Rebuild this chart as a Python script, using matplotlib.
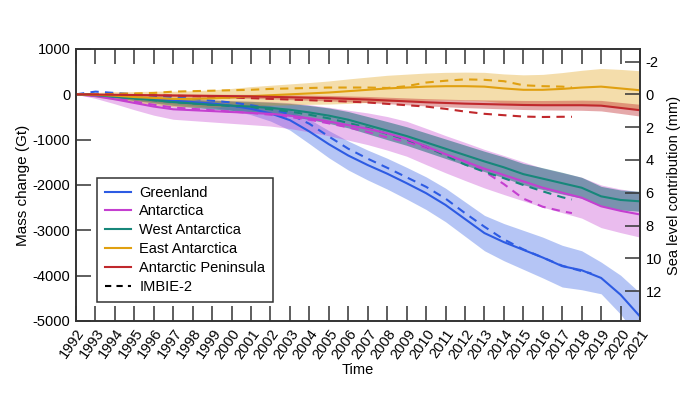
import numpy as np
import matplotlib
matplotlib.use("Agg")
import matplotlib.pyplot as plt
from matplotlib.lines import Line2D

plt.rcParams['font.family'] = ['Liberation Sans', 'DejaVu Sans']
plt.rcParams['axes.unicode_minus'] = False

years = list(range(1992, 2022))

greenland = [0, -20, -50, -80, -110, -140, -170, -200, -250, -320, -420, -570, -820, -1100,
             -1350, -1560, -1750, -1960, -2180, -2440, -2750, -3060, -3260, -3430, -3600,
             -3790, -3880, -4050, -4420, -4900]
greenland_unc = [0, 20, 40, 50, 60, 70, 80, 90, 100, 130, 170, 220, 270, 300, 320, 330, 340,
                 350, 360, 370, 380, 390, 410, 430, 450, 460, 430, 350, 430, 520]

antarctica = [0, -40, -110, -190, -270, -330, -350, -370, -390, -410, -430, -470, -530, -600,
              -680, -760, -860, -980, -1150, -1320, -1480, -1640, -1780, -1920, -2060, -2170,
              -2280, -2470, -2570, -2650]
antarctica_unc = [0, 50, 100, 150, 190, 220, 230, 240, 250, 260, 270, 285, 300, 315, 330, 350,
                  370, 385, 400, 410, 420, 425, 430, 430, 430, 440, 450, 470, 480, 500]

west = [0, -20, -50, -90, -130, -170, -200, -230, -250, -270, -300, -340, -400, -470, -560,
        -680, -800, -920, -1060, -1200, -1340, -1480, -1610, -1760, -1860, -1960, -2060,
        -2250, -2330, -2360]
west_unc = [0, 15, 30, 45, 60, 75, 85, 95, 105, 115, 125, 140, 155, 170, 180, 190, 200, 205,
            210, 215, 220, 225, 230, 235, 240, 240, 230, 220, 220, 220]

east = [0, -10, -30, -60, -80, -100, -100, -90, -70, -40, -20, 0, 20, 40, 70, 100, 130, 150,
        170, 180, 180, 170, 130, 100, 100, 120, 150, 170, 130, 90]
east_unc = [0, 50, 90, 120, 150, 170, 180, 190, 200, 210, 220, 230, 240, 255, 270, 280, 290,
            295, 300, 305, 310, 315, 320, 330, 340, 360, 380, 400, 420, 430]

peninsula = [0, -5, -10, -15, -20, -25, -30, -35, -40, -45, -55, -65, -75, -85, -100, -115,
             -135, -155, -175, -190, -205, -215, -225, -235, -240, -240, -240, -250, -300, -350]
peninsula_unc = [0, 10, 15, 20, 25, 30, 33, 36, 40, 44, 48, 52, 56, 60, 64, 68, 72, 76, 80,
                 84, 88, 92, 96, 100, 104, 108, 112, 116, 122, 130]

imbie_years = list(range(1992, 2018)) + [2017.5]
imbie_green_years = list(range(1992, 2019)) + [2018.5]
imbie_greenland = [0, 60, 30, 0, -30, -60, -100, -140, -180, -240, -320, -440, -650, -930,
                   -1200, -1420, -1620, -1830, -2040, -2300, -2620, -2920, -3200, -3420, -3600,
                   -3780, -3900, -3950]
imbie_antarctica = [0, -30, -90, -160, -230, -290, -320, -350, -380, -410, -450, -500, -560,
                    -640, -730, -830, -950, -1050, -1180, -1330, -1480, -1700, -1980, -2300,
                    -2480, -2580, -2620]
imbie_west = [0, -20, -50, -90, -130, -170, -200, -230, -260, -290, -330, -380, -450, -530,
              -630, -740, -870, -1000, -1150, -1350, -1550, -1710, -1850, -2000, -2140, -2270,
              -2320]
imbie_east = [0, 0, 10, 20, 30, 60, 70, 80, 90, 100, 120, 130, 140, 150, 150, 150, 140, 180,
              260, 300, 330, 320, 290, 200, 180, 170, 150]
imbie_peninsula = [0, -5, -10, -15, -20, -30, -40, -55, -70, -85, -100, -115, -130, -145,
                   -160, -180, -210, -240, -270, -320, -380, -430, -460, -490, -500, -495, -495]

labels = ["Greenland", "Antarctica", "West Antarctica", "East Antarctica", "Antarctic Peninsula"]
colors = ["#2d5be3", "#c43fd0", "#17877a", "#e0a010", "#c0282c"]
band_colors = ["#2d5be3", "#c43fd0", "#0c6a70", "#e0a010", "#c0282c"]
band_alpha = [0.35, 0.35, 0.5, 0.35, 0.4]

GT_PER_MM = 362.0

fig = plt.figure(figsize=(6.98, 3.96), dpi=100)
ax = fig.add_axes([76 / 698, 1 - 321 / 396, (640 - 76) / 698, (321 - 49) / 396])

series = [(greenland, greenland_unc, imbie_green_years, imbie_greenland),
          (antarctica, antarctica_unc, imbie_years, imbie_antarctica),
          (west, west_unc, imbie_years, imbie_west),
          (east, east_unc, imbie_years, imbie_east),
          (peninsula, peninsula_unc, imbie_years, imbie_peninsula)]

yrs = np.array(years, dtype=float)
for (vals, unc, iy, iv), c, a in zip(series, band_colors, band_alpha):
    v = np.array(vals, dtype=float)
    u = np.array(unc, dtype=float)
    ax.fill_between(yrs, v - u, v + u, color=c, alpha=a, lw=0, zorder=1)

for (vals, unc, iy, iv), c in zip(series, colors):
    ax.plot(iy, iv, color=c, lw=1.5, linestyle=(0, (4, 3)), zorder=3)
    ax.plot(yrs, vals, color=c, lw=1.5, zorder=4)

edge = '#333333'
ax.set_xlim(1992, 2021)
ax.set_ylim(-5000, 1000)
ax.set_xticks(years)
ax.set_xticklabels([str(y) for y in years], rotation=55, ha='right', rotation_mode='anchor')
ax.set_yticks(range(-5000, 1001, 1000))
ax.tick_params(axis='x', direction='in', length=11, width=1.1, top=True, bottom=True,
               labelsize=10.5, color=edge, pad=4)
ax.tick_params(axis='y', direction='in', length=11, width=1.1, left=True, right=False,
               labelsize=10.5, color=edge, pad=4)
for s in ax.spines.values():
    s.set_color(edge)
    s.set_linewidth(1.2)
ax.set_xlabel("Time", fontsize=10.5, labelpad=1)
ax.set_ylabel("Mass change (Gt)", fontsize=11, labelpad=2)

ax2 = ax.twinx()
lo, hi = ax.get_ylim()
ax2.set_ylim(-lo / GT_PER_MM, -hi / GT_PER_MM)
ax2.set_yticks(range(-2, 13, 2))
ax2.tick_params(axis='y', direction='in', length=11, width=1.1, labelsize=10.5,
                color=edge, pad=4)
for s in ax2.spines.values():
    s.set_color(edge)
    s.set_linewidth(1.2)
ax2.set_ylabel("Sea level contribution (mm)", fontsize=10.5, labelpad=4)

handles = [Line2D([], [], color=c, lw=1.5) for c in colors]
handles.append(Line2D([], [], color='black', lw=1.5, linestyle=(0, (3, 2.5))))
leg = ax.legend(handles, labels + ["IMBIE-2"], loc='upper left',
                bbox_to_anchor=(0.037, 0.527), fontsize=10.5, frameon=True, fancybox=False,
                edgecolor=edge, framealpha=1, borderpad=0.55, labelspacing=0.33,
                handlelength=1.8, handletextpad=0.55, borderaxespad=0)
leg.get_frame().set_linewidth(1.1)
leg.set_zorder(10)

fig.savefig("out.png", dpi=100)
